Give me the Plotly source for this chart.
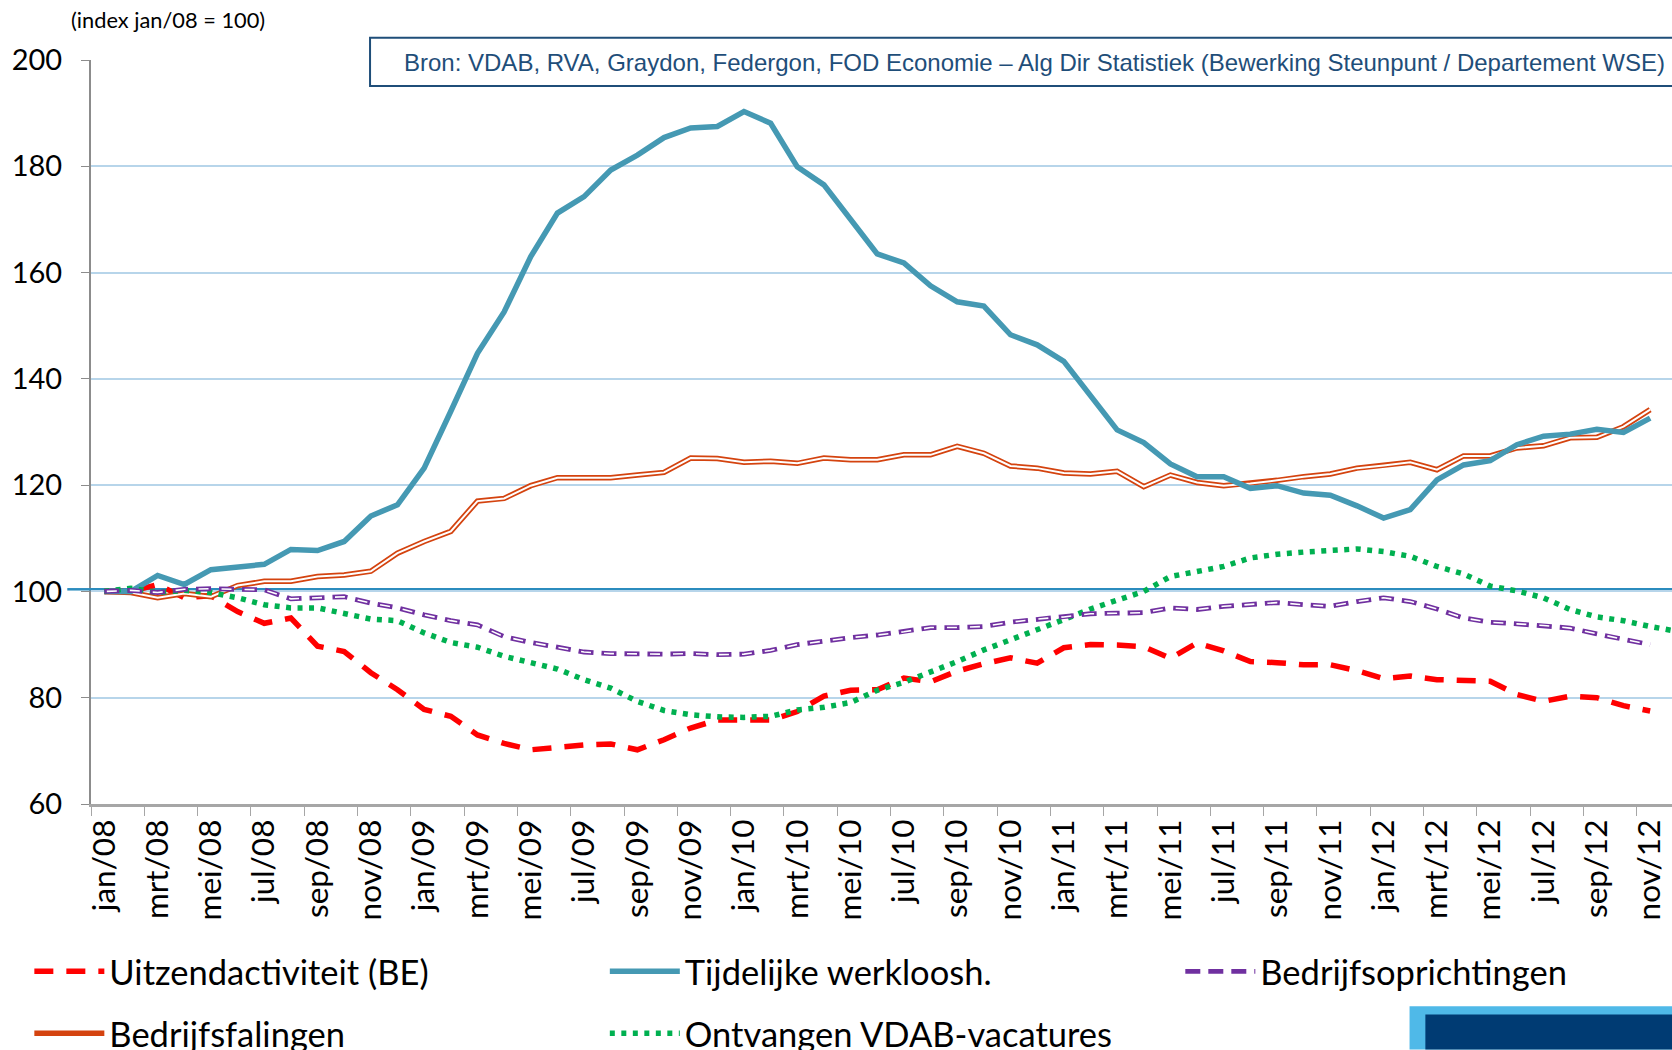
import plotly.graph_objects as go


FONT = "Lato"

months = [
    f"{m}/{y:02d}"
    for y in range(8, 13)
    for m in ["jan", "feb", "mrt", "apr", "mei", "jun",
              "jul", "aug", "sep", "okt", "nov", "dec"]
]

uitzend = [
    100, 100, 101.3, 98.8, 99.2, 96.2, 94.0, 95.0, 89.7, 88.7, 84.7, 81.5,
    77.8, 76.5, 73.0, 71.4, 70.2, 70.7, 71.1, 71.3, 70.2, 72.1, 74.3, 75.8,
    75.8, 75.8, 77.4, 80.3, 81.4, 81.5, 83.7, 83.0, 85.0, 86.4, 87.5, 86.5,
    89.4, 90.0, 89.9, 89.6, 87.4, 90.3, 88.8, 86.8, 86.6, 86.2, 86.2, 85.1,
    83.6, 84.1, 83.4, 83.2, 83.1, 80.6, 79.3, 80.3, 80.0, 78.5, 77.5,
]

tijdelijk = [
    100, 100, 103.0, 101.3, 104.1, 104.7, 105.1, 107.9, 107.7, 109.4, 114.2, 116.3,
    123.2, 133.9, 144.8, 152.6, 163.0, 171.2, 174.3, 179.3, 182.1, 185.4, 187.2, 187.5,
    190.3, 188.1, 179.9, 176.5, 170.2, 163.5, 161.8, 157.5, 154.5, 153.7, 148.3, 146.4,
    143.3, 136.7, 130.4, 128.0, 124.0, 121.6, 121.6, 119.4, 119.9, 118.5, 118.1, 116.1,
    113.8, 115.4, 121.0, 123.8, 124.6, 127.6, 129.2, 129.6, 130.5, 129.9, 132.6,
]

oprichtingen = [
    100, 100.2, 99.8, 100.4, 100.5, 100.4, 100.3, 98.6, 98.8, 99.0, 97.8, 96.9,
    95.6, 94.5, 93.7, 91.5, 90.4, 89.5, 88.6, 88.3, 88.2, 88.2, 88.3, 88.1,
    88.2, 88.9, 90.0, 90.7, 91.3, 91.8, 92.4, 93.2, 93.2, 93.4, 94.2, 94.8,
    95.2, 95.8, 95.9, 96.0, 96.9, 96.6, 97.2, 97.6, 97.9, 97.5, 97.2, 98.1,
    98.8, 98.1, 96.7, 95.0, 94.2, 93.9, 93.6, 93.1, 92.0, 91.0, 90.0,
]

falingen = [
    100, 99.8, 98.8, 99.6, 99.0, 101.1, 101.9, 101.9, 102.8, 103.1, 103.8, 107.2,
    109.4, 111.3, 117.0, 117.5, 119.9, 121.4, 121.4, 121.4, 121.9, 122.4, 125.1, 125.0,
    124.3, 124.5, 124.1, 125.1, 124.8, 124.8, 125.7, 125.7, 127.3, 126.0, 123.6, 123.2,
    122.3, 122.1, 122.6, 119.7, 121.9, 120.5, 119.9, 120.3, 120.9, 121.6, 122.1, 123.2,
    123.7, 124.3, 122.9, 125.5, 125.5, 127.0, 127.4, 128.9, 129.0, 131.0, 134.2,
]

vacatures = [
    100, 100.6, 99.8, 100.2, 99.8, 98.8, 97.5, 96.9, 96.9, 95.9, 94.8, 94.5,
    92.2, 90.4, 89.5, 87.8, 86.7, 85.4, 83.4, 81.8, 79.3, 77.6, 76.8, 76.4,
    76.3, 76.5, 77.7, 78.2, 79.1, 81.4, 82.9, 84.8, 86.8, 89.0, 90.9, 92.6,
    94.7, 96.7, 98.4, 100.0, 102.8, 103.8, 104.7, 106.3, 107.0, 107.4, 107.7, 108.0,
    107.5, 106.6, 104.7, 103.3, 101.0, 100.1, 98.8, 96.6, 95.2, 94.5, 93.4, 92.5,
]

bron = ("Bron: VDAB, RVA, Graydon, Federgon, FOD Economie \u2013 Alg Dir Statistiek "
        "(Bewerking Steunpunt / Departement WSE)")


def main():
    fig = go.Figure()

    # outline lines get a thin white line on top to fake the double stroke
    fig.add_trace(go.Scatter(
        x=months[:len(uitzend)], y=uitzend, mode="lines",
        name="Uitzendactiviteit (BE)",
        line=dict(color="#ff0000", width=5.5, dash="19px,13px"),
        legend="legend", legendgroup="a"
    ))
    fig.add_trace(go.Scatter(
        x=months[:len(falingen)], y=falingen, mode="lines",
        name="Bedrijfsfalingen",
        line=dict(color="#d4430f", width=5.5),
        legend="legend", legendgroup="b"
    ))
    fig.add_trace(go.Scatter(
        x=months[:len(falingen)], y=falingen, mode="lines",
        line=dict(color="#ffffff", width=2),
        showlegend=False, hoverinfo="skip"
    ))
    fig.add_trace(go.Scatter(
        x=months[:len(tijdelijk)], y=tijdelijk, mode="lines",
        name="Tijdelijke werkloosh.",
        line=dict(color="#4599b3", width=5.5),
        legend="legend2", legendgroup="c"
    ))
    fig.add_trace(go.Scatter(
        x=months[:len(vacatures)], y=vacatures, mode="lines",
        name="Ontvangen VDAB-vacatures",
        line=dict(color="#00b050", width=5.5, dash="5px,6.5px"),
        legend="legend2", legendgroup="d"
    ))
    fig.add_trace(go.Scatter(
        x=months[:len(oprichtingen)], y=oprichtingen, mode="lines",
        name="Bedrijfsoprichtingen",
        line=dict(color="#7030a0", width=4.8, dash="15px,8px"),
        legend="legend3", legendgroup="e"
    ))
    fig.add_trace(go.Scatter(
        x=months[:len(oprichtingen)], y=oprichtingen, mode="lines",
        line=dict(color="#ffffff", width=1.6, dash="0px,2.5px,10px,10.5px"),
        showlegend=False, hoverinfo="skip"
    ))

    # reference line at 100
    fig.add_shape(
        type="line", xref="x", yref="y", x0=-0.5, x1=59.5, y0=100.4, y1=100.4,
        line=dict(color="#2b8cbe", width=2.5), layer="below"
    )
    fig.add_shape(
        type="line", xref="paper", yref="y", x0=-0.015, x1=0, y0=100.4, y1=100.4,
        line=dict(color="#2b8cbe", width=2.5), layer="above"
    )

    # source box
    fig.add_shape(
        type="rect", xref="paper", yref="paper", x0=0.1765, x1=1.02, y0=0.965, y1=1.030,
        line=dict(color="#1f4e79", width=2), fillcolor="#ffffff", layer="above"
    )
    fig.add_annotation(
        text=bron, xref="paper", yref="paper", x=0.1965, y=0.997,
        xanchor="left", yanchor="middle", showarrow=False,
        font=dict(family="Liberation Sans", size=24, color="#1f4e79")
    )
    fig.add_annotation(
        text="(index jan/08 = 100)", xref="paper", yref="paper", x=-0.014, y=1.055,
        xanchor="left", yanchor="middle", showarrow=False,
        font=dict(family=FONT, size=21.8, color="#000")
    )

    # decorative box bottom right
    fig.add_shape(
        type="rect", xref="paper", yref="paper", x0=0.834, x1=1.02, y0=-0.330, y1=-0.272,
        line=dict(width=0), fillcolor="#4fb9e8", layer="above"
    )
    fig.add_shape(
        type="rect", xref="paper", yref="paper", x0=0.844, x1=1.02, y0=-0.330, y1=-0.283,
        line=dict(width=0), fillcolor="#003b73", layer="above"
    )

    fig.update_xaxes(
        type="category",
        categoryorder="array",
        categoryarray=months,
        range=[-0.5, 58.82],
        dtick=2,
        tick0=0,
        tickson="boundaries",
        tickangle=-90,
        ticks="outside",
        ticklen=9,
        tickcolor="#a6a6a6",
        tickwidth=1,
        showline=True,
        linecolor="#a6a6a6",
        linewidth=3,
        showgrid=False,
        automargin=False,
        tickfont=dict(family=FONT, size=31.5, color="#000")
    )

    fig.update_yaxes(
        range=[60, 200],
        dtick=20,
        ticks="outside",
        ticklen=8,
        tickcolor="#8c8c8c",
        ticklabelstandoff=13,
        showline=True,
        linecolor="#8c8c8c",
        linewidth=2,
        showgrid=True,
        gridcolor="#b7d5ea",
        gridwidth=1.5,
        zeroline=False,
        automargin=False,
        tickfont=dict(family=FONT, size=29, color="#000")
    )

    legend_style = dict(
        orientation="v",
        xanchor="left",
        yanchor="top",
        yref="container",
        y=0.1025,
        font=dict(family=FONT, size=34.5, color="#000"),
        itemwidth=70,
        tracegroupgap=14,
        bgcolor="rgba(0,0,0,0)",
        traceorder="grouped"
    )

    fig.update_layout(
        width=1672,
        height=1050,
        plot_bgcolor="#fff",
        paper_bgcolor="#fff",
        showlegend=True,
        legend=dict(x=-0.039, **legend_style),
        legend2=dict(x=0.325, **legend_style),
        legend3=dict(x=0.689, **legend_style),
        margin=dict(l=91, r=0, t=60, b=246, autoexpand=False)
    )

    # the page body has a default 8px margin; drop it so the figure sits at 0,0
    fig.write_html(
        "out.html",
        config={"displayModeBar": False},
        post_script="document.body.style.margin='0';"
    )


if __name__ == "__main__":
    main()
